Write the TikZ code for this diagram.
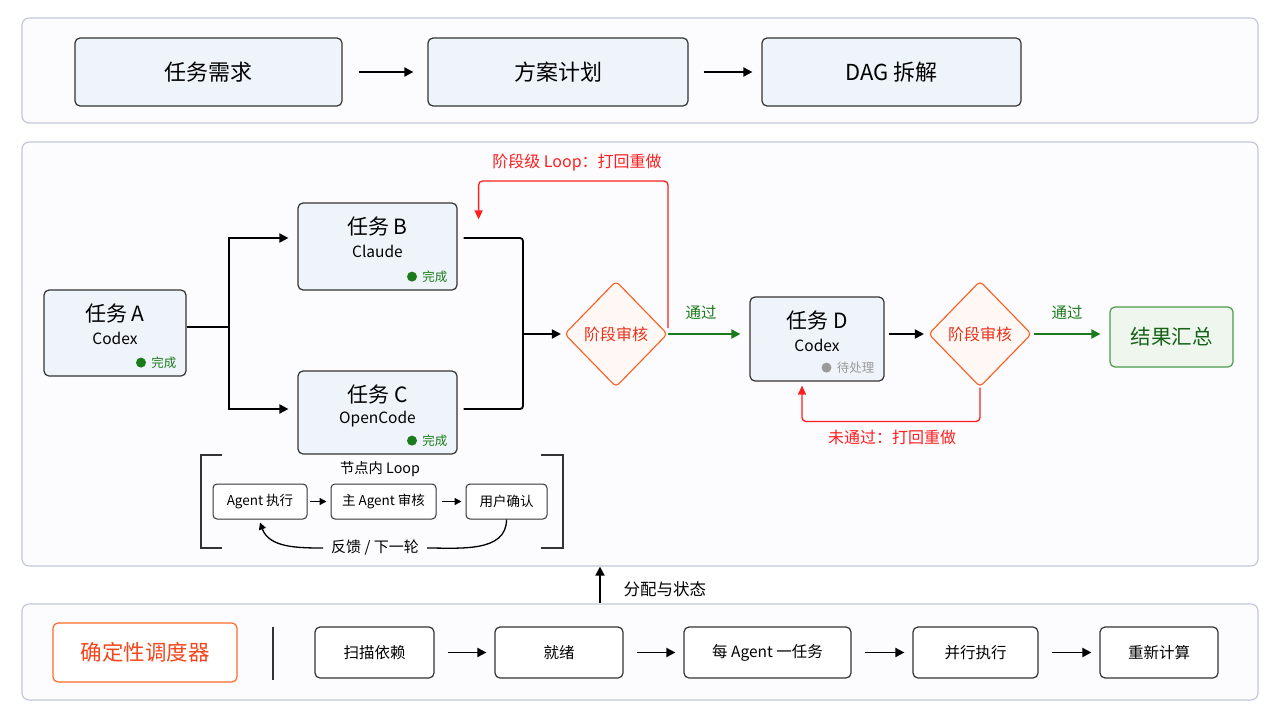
\documentclass[tikz,border=0pt]{standalone}
\usepackage{fontspec}
\setmainfont{Noto Sans CJK SC}
\usetikzlibrary{arrows.meta, calc, positioning, shapes.geometric}
\definecolor{panelline}{HTML}{C3C8D8}
\definecolor{panelbg}{HTML}{FCFCFE}
\definecolor{boxbg}{HTML}{EFF4FA}
\definecolor{boxline}{HTML}{333333}
\definecolor{okgreen}{HTML}{1B7A1B}
\definecolor{resbg}{HTML}{EEF6EE}
\definecolor{resline}{HTML}{4C9A4C}
\definecolor{gateline}{HTML}{FF5A1F}
\definecolor{gatebg}{HTML}{FFF8F4}
\definecolor{gatetxt}{HTML}{E8331C}
\definecolor{loopred}{HTML}{FF1F1F}
\definecolor{waitgray}{HTML}{9A9A9A}
\definecolor{schedline}{HTML}{FF6A2A}
\definecolor{schedtxt}{HTML}{F2461C}
\tikzset{
  % fasce di sfondo
  panel/.style={draw=panelline, fill=panelbg, rounded corners=7pt, line width=1.2pt,
    inner sep=0pt},
  % fasi della pianificazione
  stage/.style={draw=boxline, fill=boxbg, rounded corners=5pt, line width=1.2pt,
    minimum height=68pt, font=\fontsize{22}{26}\selectfont},
  % nodo del DAG
  tbox/.style={draw=boxline, fill=boxbg, rounded corners=5pt, line width=1.2pt,
    inner sep=0pt},
  ttl/.style={font=\fontsize{21}{25}\selectfont, inner sep=0pt},
  sub/.style={font=\fontsize{15.5}{18}\selectfont, inner sep=0pt},
  stat/.style={font=\fontsize{12.5}{15}\selectfont, inner sep=0pt},
  dot/.style={circle, inner sep=0pt, minimum size=10pt},
  % revisione di fase
  gate/.style={diamond, draw=gateline, fill=gatebg, line width=1.1pt, rounded corners=4pt,
    minimum width=103pt, minimum height=106pt, inner sep=0pt, text=gatetxt,
    font=\fontsize{16}{19}\selectfont},
  result/.style={draw=resline, fill=resbg, rounded corners=5pt, line width=1.2pt,
    text=okgreen!80!black, font=\fontsize{20.5}{24}\selectfont},
  % passi dello scheduler
  stepbox/.style={draw=boxline, fill=white, rounded corners=5pt, line width=1.2pt,
    minimum height=51pt, font=\fontsize{15.5}{18}\selectfont},
  sched/.style={draw=schedline, fill=white, rounded corners=5pt, line width=1.2pt,
    text=schedtxt, font=\fontsize{21.5}{25}\selectfont},
  mini/.style={draw=boxline, fill=white, rounded corners=4pt, line width=1pt,
    minimum height=35pt, font=\fontsize{13.5}{16}\selectfont},
  % frecce
  flow/.style={-{Triangle[length=9pt,width=9pt]}, line width=1.8pt},
  link/.style={line width=1.8pt},
  pass/.style={-{Triangle[length=9pt,width=9pt]}, line width=1.8pt, okgreen},
  redo/.style={-{Triangle[length=9pt,width=8pt]}, line width=1.3pt, loopred,
    rounded corners=4pt},
  thin flow/.style={-{Triangle[length=7pt,width=7pt]}, line width=1.4pt},
  % etichette
  lbl/.style={font=\fontsize{15}{18}\selectfont},
  redlbl/.style={font=\fontsize{16}{19}\selectfont, text=loopred},
  passlbl/.style={font=\fontsize{15.5}{18}\selectfont, text=okgreen},
}
\newcommand{\taskbox}[8]{%
  \node[tbox, minimum width=#3pt, minimum height=#4pt] (#1) at #2 {};
  \node[ttl] (#1t) at ([yshift=-24pt]#1.north) {#5};
  \node[sub] (#1c) at ([yshift=-49pt]#1.north) {#6};
  \node[stat, text=#7, anchor=east] (#1s) at ([xshift=-10pt,yshift=14pt]#1.south east) {#8};
  \node[dot, fill=#7, left=5pt of #1s] (#1d) {};
}

\begin{document}
\begin{tikzpicture}[x=1pt, y=-1pt]
  \useasboundingbox (0,0) rectangle (1280,720);
  % fasce
  \node[panel, minimum width=1236pt, minimum height=105pt] (ptop) at (640,70.5) {};
  \node[panel, minimum width=1236pt, minimum height=424pt] (pmid) at (640,354) {};
  \node[panel, minimum width=1236pt, minimum height=96pt] (pbot) at (640,652) {};

  % pianificazione
  \node[stage, minimum width=267pt] (req) at (208.5,72) {任务需求};
  \node[stage, minimum width=260pt] (plan) at (558,72) {方案计划};
  \node[stage, minimum width=259pt] (dag) at (891.5,72) {DAG 拆解};
  \draw[flow, shorten <=16pt, shorten >=14pt] (req) -- (plan);
  \draw[flow, shorten <=15pt, shorten >=9pt] (plan) -- (dag);

  % DAG
  \taskbox{ta}{(115,333)}{142}{86}{任务 A}{Codex}{okgreen}{完成}
  \taskbox{tb}{(377.5,246.5)}{159}{87}{任务 B}{Claude}{okgreen}{完成}
  \taskbox{tc}{(377.5,412.5)}{159}{83}{任务 C}{OpenCode}{okgreen}{完成}
  \taskbox{td}{(817,339)}{134}{84}{任务 D}{Codex}{waitgray}{待处理}
  \node[gate] (g1) at (616,334) {阶段审核};
  \node[gate] (g2) at (980,334) {阶段审核};
  \node[result, minimum width=123pt, minimum height=60pt] (res) at (1171.5,337) {结果汇总};

  \coordinate (split) at (229,327);
  \coordinate (merge) at (523,334);
  \draw[link] (ta.east |- split) -- (split);
  \draw[flow] (split) |- ([xshift=-9pt]tb.west |- 0,238);
  \draw[flow] (split) |- ([xshift=-9pt]tc.west |- 0,409);
  \draw[link, rounded corners=3pt] ([xshift=6pt]tb.east |- 0,238) -| (merge)
    |- ([xshift=6pt]tc.east |- 0,409);
  \draw[flow, shorten >=3pt] (merge) -- (g1.west);
  \draw[pass, shorten >=9pt] (g1.east) -- (td.west |- g1.east);
  \node[passlbl] (ok1) at (701,313) {通过};
  \draw[flow, shorten <=4pt, shorten >=4pt] (td.east |- g2.west) -- (g2.west);
  \draw[pass, shorten <=2pt, shorten >=9pt] (g2.east) -- (res.west |- g2.east);
  \node[passlbl] (ok2) at (1067,313) {通过};

  % cicli di rifacimento
  \coordinate (backB) at ([xshift=21pt,yshift=-17pt]tb.north east);
  \draw[redo] ([yshift=6pt]g1.east) -- ++(0,-147) -| (backB);
  \node[redlbl] (redo1) at (577,163) {阶段级 Loop：打回重做};
  \draw[redo] (g2.south) -- ++(0,34) -| ([xshift=-15pt,yshift=-4pt]td.south);
  \node[redlbl] (redo2) at (892,437) {未通过：打回重做};

  % ciclo interno al nodo
  \draw[line width=1.2pt, black!80] (222,455) -- (201,455) -- (201,548) -- (222,548);
  \draw[line width=1.2pt, black!80] (541,455) -- (563,455) -- (563,548) -- (541,548);
  \node[font=\fontsize{14.3}{17}\selectfont] (inner) at (380,469) {节点内 Loop};
  \node[mini, minimum width=94pt] (ag) at (260,501.5) {Agent 执行};
  \node[mini, minimum width=105pt] (mr) at (383.5,501.5) {主 Agent 审核};
  \node[mini, minimum width=81pt] (ux) at (506.5,501.5) {用户确认};
  \draw[thin flow, shorten <=2pt, shorten >=4pt] (ag) -- (mr);
  \draw[thin flow, shorten <=5pt, shorten >=4pt] (mr) -- (ux);
  \node[lbl, inner sep=8pt] (fb) at (375,548) {反馈 / 下一轮};
  \draw[line width=1.3pt] (ux.south) to[out=-90, in=0] (fb.east);
  \draw[thin flow, line width=1.3pt] (fb.west) to[out=180, in=-70] ([yshift=-3pt]ag.south);

  % scheduler
  \coordinate (asg) at (600,603);
  \draw[flow] (asg) -- (asg |- pmid.south);
  \node[lbl, font=\fontsize{16.5}{19}\selectfont, anchor=west] (asgl) at (620,589) {分配与状态};
  \node[sched, minimum width=184pt, minimum height=59pt] (sch) at (145,652.5) {确定性调度器};
  \draw[line width=1.2pt, black!80] (273,627) -- (273,680);
  \node[stepbox, minimum width=119pt] (scan) at (374.5,652.5) {扫描依赖};
  \node[stepbox, minimum width=128pt] (ready) at (559,652.5) {就绪};
  \node[stepbox, minimum width=167pt] (one) at (767.5,652.5) {每 Agent 一任务};
  \node[stepbox, minimum width=125pt] (par) at (975.5,652.5) {并行执行};
  \node[stepbox, minimum width=118pt] (recalc) at (1159,652.5) {重新计算};
  \foreach \a/\b in {scan/ready, ready/one, one/par, par/recalc}
    \draw[flow, shorten <=13pt, shorten >=8pt] (\a) -- (\b);
\end{tikzpicture}
\end{document}
